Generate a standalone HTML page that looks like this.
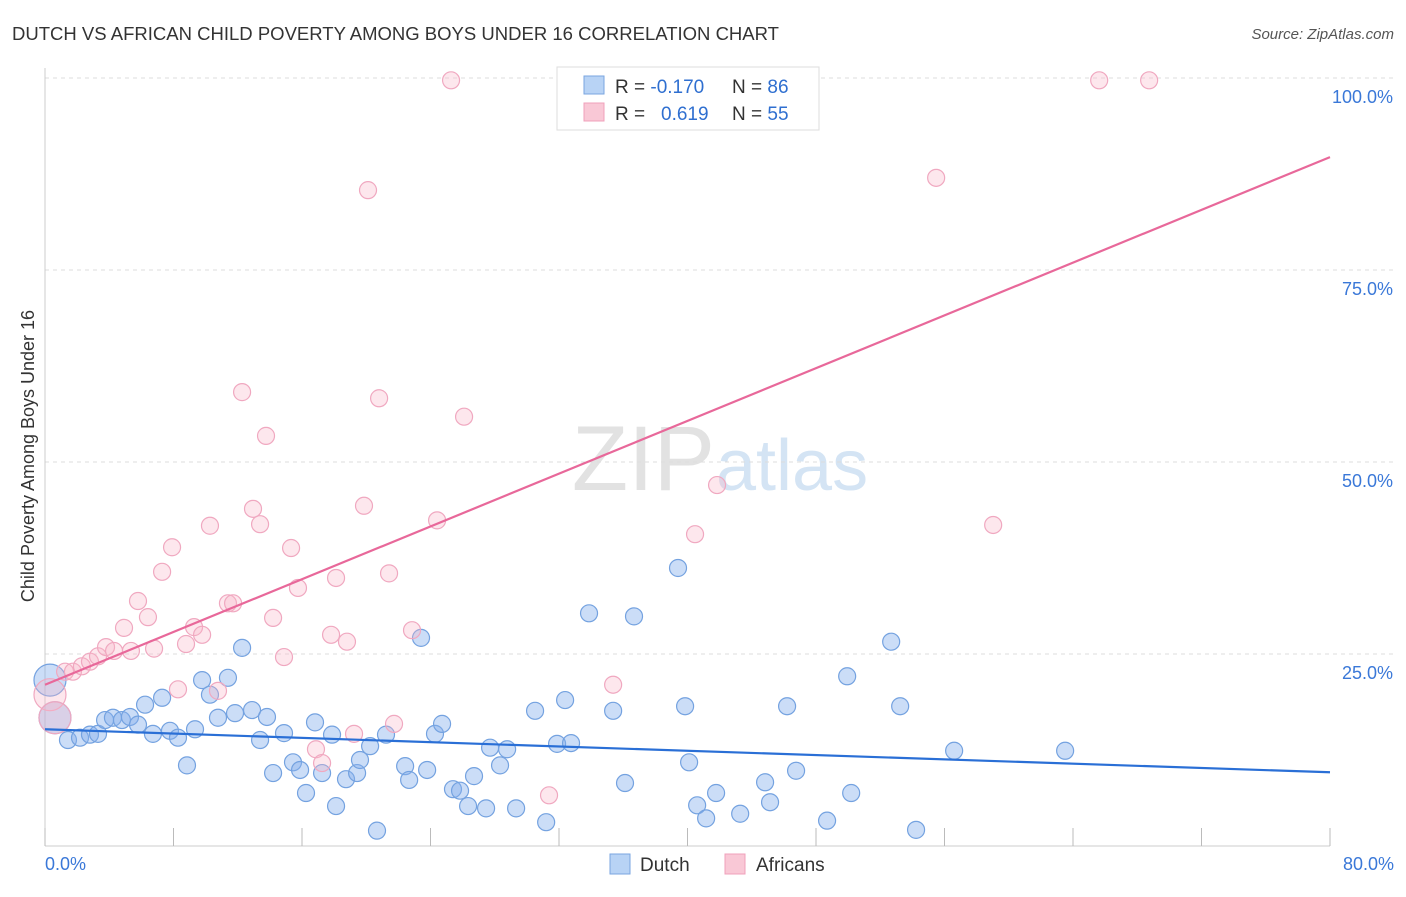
<!DOCTYPE html>
<html><head><meta charset="utf-8"><style>
body{margin:0;background:#fff;font-family:"Liberation Sans",sans-serif;}
svg text{font-family:"Liberation Sans",sans-serif;}
</style></head><body>
<svg id="chart" width="1406" height="892" xmlns="http://www.w3.org/2000/svg">
<text x="12" y="40" font-size="18" fill="#333" textLength="767" lengthAdjust="spacingAndGlyphs">DUTCH VS AFRICAN CHILD POVERTY AMONG BOYS UNDER 16 CORRELATION CHART</text>
<text x="1394" y="39" font-size="15" fill="#555" text-anchor="end" font-style="italic">Source: ZipAtlas.com</text>
<text x="715" y="490" font-size="92" fill="#e2e2e2" text-anchor="end" font-family="Liberation Serif">ZIP</text>
<text x="716" y="490" font-size="72" fill="#d4e4f4">atlas</text>
<g id="grid"></g>
<g id="axes"></g>
<g id="pts"></g>
<g id="lines"></g>
<text transform="translate(34,456) rotate(-90)" font-size="18" fill="#333" text-anchor="middle">Child Poverty Among Boys Under 16</text>
<g>
<rect x="557" y="67" width="262" height="63" fill="#fff" stroke="#ddd"/>
<rect x="584" y="76" width="20" height="18" fill="#b8d3f5" stroke="#7aa6e0"/>
<rect x="584" y="103" width="20" height="18" fill="#f9c8d6" stroke="#f0a0bb"/>
<text x="615" y="93" font-size="19" fill="#333">R = <tspan fill="#2f6fd0">-0.170</tspan><tspan x="732">N = </tspan><tspan fill="#2f6fd0">86</tspan></text>
<text x="615" y="120" font-size="19" fill="#333">R = <tspan x="661" fill="#2f6fd0">0.619</tspan><tspan x="732">N = </tspan><tspan fill="#2f6fd0">55</tspan></text>
</g>
<g>
<rect x="610" y="854" width="20" height="20" fill="#b8d3f5" stroke="#7aa6e0"/>
<text x="640" y="871" font-size="19" fill="#333">Dutch</text>
<rect x="725" y="854" width="20" height="20" fill="#f9c8d6" stroke="#f0a0bb"/>
<text x="756" y="871" font-size="19" fill="#333">Africans</text>
</g>
</svg>
<script>
const xTicks=[0,8,16,24,32,40,48,56,64,72,80];
const yTicks=[25,50,75,100];
const yTickLabels=["25.0%","50.0%","75.0%","100.0%"];
const xEndLabels=["0.0%","80.0%"];
const dutchX=[0.31,0.62,1.43,2.18,2.80,3.30,3.74,4.23,4.79,5.29,5.79,6.23,6.72,7.29,7.78,8.28,8.84,9.34,9.78,10.27,10.77,11.39,11.83,12.27,12.89,13.39,13.82,14.20,14.88,15.44,15.88,16.25,16.81,17.25,17.87,18.12,18.74,19.43,19.61,20.24,20.67,21.23,22.42,22.67,23.41,23.79,24.28,24.72,25.40,25.84,26.34,26.71,27.46,27.71,28.33,28.77,29.33,30.51,31.20,31.88,32.38,32.75,33.87,35.37,36.11,36.67,39.41,39.85,40.10,40.60,41.16,41.78,43.28,44.83,45.14,46.20,46.76,48.69,49.94,50.19,52.68,53.24,54.23,56.60,63.51];
const dutchY=[21.6,16.7,13.8,14.1,14.5,14.6,16.4,16.7,16.4,16.8,15.8,18.4,14.6,19.3,15.0,14.1,10.5,15.2,21.6,19.7,16.7,21.9,17.3,25.8,17.7,13.8,16.8,9.5,14.7,10.9,9.9,6.9,16.1,9.5,14.5,5.2,8.7,9.5,11.2,13.0,2.0,14.5,10.4,8.6,27.1,9.9,14.6,15.9,7.4,7.2,5.2,9.1,4.9,12.8,10.5,12.6,4.9,17.6,3.1,13.3,19.0,13.4,30.3,17.6,8.2,29.9,36.2,18.2,10.9,5.3,3.6,6.9,4.2,8.3,5.7,18.2,9.8,3.3,22.1,6.9,26.6,18.2,2.1,12.4,12.4];
const dutchBig=[0,1];
const afrX=[0.31,0.62,1.25,1.74,2.30,2.80,3.30,3.80,4.30,4.92,5.35,5.79,6.41,6.79,7.29,7.91,8.28,8.78,9.28,9.78,10.27,10.77,11.39,11.71,12.27,12.95,13.39,13.76,14.20,14.88,15.32,15.75,16.87,17.25,17.81,18.12,18.80,19.24,19.86,20.11,20.80,21.42,21.73,22.85,24.41,25.28,26.09,31.38,35.37,40.47,41.84,55.48,59.03,65.63,68.74];
const afrY=[19.7,16.7,22.7,22.7,23.4,24.0,24.7,25.9,25.4,28.4,25.4,31.9,29.8,25.7,35.7,38.9,20.4,26.3,28.5,27.5,41.7,20.2,31.6,31.6,59.1,43.9,41.9,53.4,29.7,24.6,38.8,33.6,12.6,10.8,27.5,34.9,26.6,14.6,44.3,85.4,58.3,35.5,15.9,28.1,42.4,99.7,55.9,6.6,21.0,40.6,47.0,87.0,41.8,99.7,99.7];
const afrBig=[0,1];
const dutchTrend=[15.2,9.6];
const afrTrend=[21.0,89.7];

const X0=45,X1=1330,Y0=846,Y100=78;
const sx=v=>X0+(X1-X0)*v/80;
const sy=v=>Y0-(Y0-Y100)*v/100;
const NS="http://www.w3.org/2000/svg";
function mk(t,a,p){const e=document.createElementNS(NS,t);for(const k in a)e.setAttribute(k,a[k]);p.appendChild(e);return e;}
const grid=document.getElementById('grid'),axes=document.getElementById('axes'),pts=document.getElementById('pts'),lines=document.getElementById('lines');
yTicks.forEach((t,i)=>{
 const g=mk('line',{x1:X0,x2:1394,y1:sy(t),y2:sy(t),stroke:'#ddd','stroke-dasharray':'4,4'},grid);
 
 
 const tx=mk('text',{x:1393,y:sy(t)+25,'font-size':18,fill:'#3a78d8','text-anchor':'end'},axes);
 tx.textContent=yTickLabels[i];
 
 
});
const ax=mk('line',{x1:X0,x2:X0,y1:68,y2:Y0,stroke:'#ccc'},axes);


const bx=mk('line',{x1:X0,x2:X1,y1:Y0,y2:Y0,stroke:'#ccc'},axes);


xTicks.forEach(t=>{
 const l=mk('line',{x1:sx(t),x2:sx(t),y1:828,y2:Y0,stroke:'#bbb'},axes);
 
 
});
[[0,'start'],[80,'end']].forEach((p,i)=>{
 const t=mk('text',{x:i?1394:45,y:870,'font-size':18,fill:'#3a78d8','text-anchor':p[1]},axes);
 t.textContent=xEndLabels[i];
 
 
});
function drawPts(xs,ys,big,fill,stroke,name){
 xs.forEach((x,i)=>{
  const c=mk('circle',{cx:sx(x),cy:sy(ys[i]),r:big.includes(i)?16:8.5,fill:fill,stroke:stroke,'stroke-width':1.2},pts);
  
  
 });
}
drawPts(dutchX,dutchY,dutchBig,'rgba(130,175,235,0.42)','#74a2e0','dutch-point');
drawPts(afrX,afrY,afrBig,'rgba(248,180,200,0.32)','#f0a8c0','africans-point');
const l1=mk('line',{x1:sx(0),y1:sy(dutchTrend[0]),x2:sx(80),y2:sy(dutchTrend[1]),stroke:'#2a6fd6','stroke-width':2.2},lines);


const l2=mk('line',{x1:sx(0),y1:sy(afrTrend[0]),x2:sx(80),y2:sy(afrTrend[1]),stroke:'#e8689a','stroke-width':2.2},lines);


</script>
</body></html>
